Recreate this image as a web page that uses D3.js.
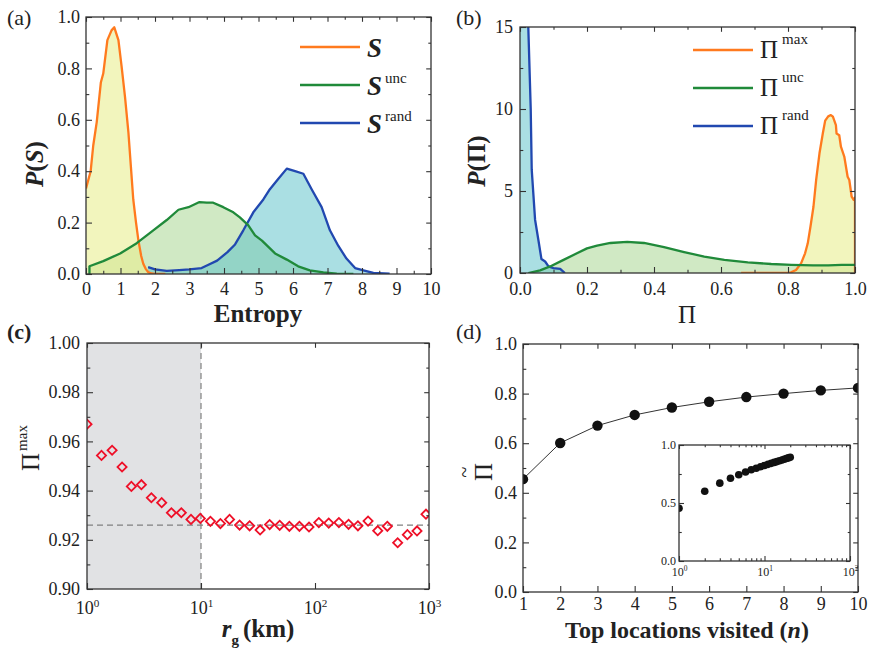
<!DOCTYPE html>
<html>
<head>
<meta charset="utf-8">
<script src="https://cdn.jsdelivr.net/npm/d3@7"></script>
</head>
<body style="margin:0;background:#fff">
<div id="chart"></div>
<script>
// (a) entropy distributions  [S, P(S)]
var sObs = [[0,0.333],[0.135,0.40],[0.21,0.5],[0.31,0.59],[0.43,0.745],[0.5,0.78],[0.62,0.91],[0.74,0.948],[0.82,0.96],[0.94,0.91],
            [1.03,0.81],[1.13,0.69],[1.23,0.55],[1.3,0.42],[1.37,0.29],[1.45,0.2],[1.52,0.13],[1.6,0.07],[1.66,0.04],[1.73,0.02],
            [1.8,0.008],[1.9,0.002],[2.0,0],[2.3,0]];
var sUnc = [[0.1,0],[0.1,0.03],[0.5,0.05],[0.99,0.08],[1.47,0.12],[1.95,0.17],[2.34,0.21],[2.68,0.25],[2.97,0.26],[3.29,0.28],[3.5,0.278],
            [3.67,0.278],[3.98,0.26],[4.27,0.24],[4.46,0.22],[4.7,0.19],[4.9,0.15],[5.1,0.13],[5.48,0.08],[5.82,0.056],[6.15,0.03],
            [6.49,0.014],[6.88,0.006],[7.27,0.001],[7.75,0]];
var sRand = [[1.8,0.027],[2.0,0.018],[2.34,0.012],[2.7,0.015],[3.0,0.018],[3.35,0.023],[3.55,0.036],[3.8,0.052],[4.1,0.085],[4.32,0.115],
             [4.56,0.17],[4.85,0.24],[5.14,0.29],[5.33,0.33],[5.57,0.37],[5.82,0.41],[6.06,0.40],[6.3,0.39],[6.54,0.33],[6.83,0.26],
             [7.07,0.17],[7.31,0.11],[7.55,0.06],[7.8,0.023],[8.04,0.014],[8.33,0.004],[8.8,0.001]];

// (b) predictability distributions  [Pi, P(Pi)]
var piMax = [[0.66,0],[0.8,0.02],[0.809,0.04],[0.824,0.18],[0.839,0.59],[0.851,1.2],[0.859,1.81],[0.867,2.82],[0.876,4.04],[0.884,5.67],
             [0.894,7.3],[0.904,8.52],[0.911,9.29],[0.92,9.55],[0.928,9.63],[0.934,9.53],[0.943,9.02],[0.945,8.5],[0.953,8.4],[0.958,7.7],
             [0.968,7.1],[0.978,5.87],[0.983,5.67],[0.99,4.65],[0.996,4.46],[1.0,4.6],[1.0,0]];
var piUnc = [[0.025,0],[0.06,0.16],[0.09,0.4],[0.13,0.8],[0.17,1.2],[0.2,1.5],[0.23,1.67],[0.27,1.83],[0.32,1.9],[0.37,1.83],
             [0.43,1.58],[0.49,1.28],[0.55,1.0],[0.61,0.8],[0.68,0.65],[0.75,0.55],[0.81,0.5],[0.875,0.47],[0.92,0.46],[0.96,0.49],[1.0,0.49]];
var piRand = [[0,30],[0.025,14.85],[0.032,10],[0.035,6.3],[0.045,3.25],[0.055,2.0],[0.064,0.85],[0.075,0.7],[0.085,0.4],[0.1,0.3],
              [0.12,0.25],[0.134,0]];

// (c) Pi max vs radius of gyration
var rg = [1.0,1.34,1.66,2.03,2.45,3.0,3.67,4.52,5.5,6.72,8.17,9.86,12.1,14.8,17.8,21.8,26.7,33,40,49,59.6,73,88.6,108,132,162,197,238,292,355,431,531,646,785,941];
var piRg = [0.967,0.9543,0.9564,0.9496,0.9417,0.9424,0.9371,0.9351,0.931,0.931,0.9283,0.9287,0.9275,0.9266,0.9283,0.926,0.9257,0.924,
            0.9262,0.9259,0.9255,0.9255,0.9252,0.927,0.9268,0.927,0.9263,0.9257,0.9276,0.9237,0.9255,0.9188,0.9221,0.9236,0.9304];
var piRgMean = 0.926;

// (d) top n locations
var nTop = [1,2,3,4,5,6,7,8,9,10];
var piTop = [0.455,0.601,0.671,0.714,0.744,0.767,0.786,0.8,0.813,0.823];
var nInset = [1,2,3,4,5,6,7,8,9,10,11,12,13,14,15,16,17,18,19,20];
var piInset = [0.455,0.601,0.671,0.714,0.744,0.767,0.786,0.8,0.813,0.823,0.833,0.842,0.85,0.857,0.864,0.871,0.877,0.883,0.889,0.895];

var cOrange = "#ff7a1e", cGreen = "#208a3a", cBlue = "#2148b0";

var svg = d3.select("#chart").append("svg").attr("width", 870).attr("height", 655);

function panel(id, l, t, r, b) {
  var g = svg.append("g").attr("transform", "translate(" + l + "," + t + ")");
  svg.append("clipPath").attr("id", id).append("rect").attr("width", r - l).attr("height", b - t);
  return { g: g, w: r - l, h: b - t, clip: "url(#" + id + ")" };
}

function axes(p, x, y, o) {
  var g = p.g, w = p.w, h = p.h, tl = o.tl || 6;
  function ax(a, tr, vals, size, fmt, pad) {
    var s = g.append("g").attr("transform", tr)
      .call(a.tickValues(vals).tickSize(size).tickPadding(pad || 6).tickFormat(fmt));
    s.attr("font-size", o.fs || 18).attr("font-family", null).attr("color", "#333");
    s.selectAll(".tick line").attr("stroke-width", 1.1);
    s.select(".domain").remove();
    return s;
  }
  var bx = ax(d3.axisBottom(x), "translate(0," + h + ")", o.xt, -tl, o.xf, o.xpad);
  if (o.xm) ax(d3.axisBottom(x), "translate(0," + h + ")", o.xm, -tl * 0.55, "");
  ax(d3.axisTop(x), "translate(0,0)", o.xt, -tl * 0.8, "");
  if (o.xm) ax(d3.axisTop(x), "translate(0,0)", o.xm, -tl * 0.45, "");
  ax(d3.axisLeft(y), "translate(0,0)", o.yt, -tl, o.yf, o.ypad);
  if (o.ym) ax(d3.axisLeft(y), "translate(0,0)", o.ym, -tl * 0.55, "");
  ax(d3.axisRight(y), "translate(" + w + ",0)", o.yt, -tl * 0.8, "");
  if (o.ym) ax(d3.axisRight(y), "translate(" + w + ",0)", o.ym, -tl * 0.45, "");
  g.append("rect").attr("width", w).attr("height", h)
    .attr("fill", "none").attr("stroke", "#333").attr("stroke-width", 1.3);
  return bx;
}

function powLabels(s) {
  s.selectAll(".tick text").each(function(d) {
    var t = d3.select(this).text("10");
    t.append("tspan").attr("dy", "-0.6em").attr("font-size", "0.62em").text(Math.round(Math.log10(d)));
  });
}

function range(a, b, st) { return d3.range(a, b + st / 2, st); }

function curves(p, x, y, series) {
  var area = d3.area().x(function(d) { return x(d[0]); }).y0(y(0)).y1(function(d) { return y(d[1]); });
  var line = d3.line().x(function(d) { return x(d[0]); }).y(function(d) { return y(d[1]); });
  var c = p.g.append("g").attr("clip-path", p.clip);
  series.forEach(function(s) {
    c.append("path").datum(s.data).attr("d", area).attr("fill", s.fill).attr("fill-opacity", s.op);
  });
  series.slice().reverse().forEach(function(s) {
    c.append("path").datum(s.data).attr("d", line).attr("fill", "none")
      .attr("stroke", s.color).attr("stroke-width", 2.3).attr("stroke-linejoin", "round");
  });
}

function legend(items, x1, x2, y0, dy, sym, sz, bold, supDy) {
  items.forEach(function(it, i) {
    var yy = y0 + i * dy;
    svg.append("line").attr("x1", x1).attr("x2", x2).attr("y1", yy).attr("y2", yy)
      .attr("stroke", it.color).attr("stroke-width", 2.5);
    var t = svg.append("text").attr("x", x2 + 7).attr("y", yy + (bold ? 10 : 8)).attr("font-size", sz);
    var s = t.append("tspan").text(sym);
    if (bold) s.attr("font-weight", "bold").attr("font-style", "italic");
    if (it.sup) t.append("tspan").attr("dx", bold ? 3 : 4).attr("dy", supDy).attr("font-size", 15).text(it.sup);
  });
}

// ---------- (a)
var pa = panel("ca", 86, 17, 431, 274);
var xa = d3.scaleLinear().domain([0, 10]).range([0, pa.w]);
var ya = d3.scaleLinear().domain([0, 1]).range([pa.h, 0]);
curves(pa, xa, ya, [
  { data: sUnc, fill: "rgb(161,211,137)", op: 0.5, color: cGreen },
  { data: sRand, fill: "rgb(85,191,199)", op: 0.5, color: cBlue },
  { data: sObs, fill: "rgb(233,238,145)", op: 0.6, color: cOrange }
]);
axes(pa, xa, ya, { xt: range(0, 10, 1), xm: range(0.5, 9.5, 1), xf: d3.format("d"), xpad: 8,
  yt: range(0, 1, 0.2), ym: range(0.1, 0.9, 0.2), yf: d3.format(".1f") });
legend([{ color: cOrange }, { color: cGreen, sup: "unc" }, { color: cBlue, sup: "rand" }],
  300, 360, 47, 38, "S", 27, true, -12);
svg.append("text").attr("x", 258).attr("y", 322).attr("text-anchor", "middle")
  .attr("font-size", 25).attr("font-weight", "bold").text("Entropy");
var yla = svg.append("text").attr("transform", "translate(34,164) rotate(-90)").attr("text-anchor", "middle")
  .attr("dy", "0.35em").attr("font-size", 25).attr("font-weight", "bold");
yla.append("tspan").attr("font-style", "italic").text("P");
yla.append("tspan").text("(");
yla.append("tspan").attr("font-style", "italic").text("S");
yla.append("tspan").text(")");

// ---------- (b)
var pb = panel("cb", 520, 27, 855, 273);
var xb = d3.scaleLinear().domain([0, 1]).range([0, pb.w]);
var yb = d3.scaleLinear().domain([0, 15]).range([pb.h, 0]);
curves(pb, xb, yb, [
  { data: piUnc, fill: "rgb(161,211,137)", op: 0.5, color: cGreen },
  { data: piRand, fill: "rgb(85,191,199)", op: 0.5, color: cBlue },
  { data: piMax, fill: "rgb(233,238,145)", op: 0.6, color: cOrange }
]);
axes(pb, xb, yb, { xt: range(0, 1, 0.2), xm: range(0.1, 0.9, 0.2), xf: d3.format(".1f"), xpad: 9,
  yt: [0, 5, 10, 15], ym: [2.5, 7.5, 12.5], yf: d3.format("d"), ypad: 7 });
legend([{ color: cOrange, sup: "max" }, { color: cGreen, sup: "unc" }, { color: cBlue, sup: "rand" }],
  693, 753, 50, 38, "\u03A0", 25, false, -14);
svg.append("text").attr("x", 687).attr("y", 323).attr("text-anchor", "middle")
  .attr("font-size", 25).text("\u03A0");
var ylb = svg.append("text").attr("transform", "translate(476,161) rotate(-90)").attr("text-anchor", "middle")
  .attr("dy", "0.35em").attr("font-size", 25).attr("font-weight", "bold");
ylb.append("tspan").attr("font-style", "italic").text("P");
ylb.append("tspan").text("(\u03A0)");

// ---------- (c)
var pc = panel("cc", 87, 343, 429, 589);
var xc = d3.scaleLog().domain([1, 1000]).range([0, pc.w]);
var yc = d3.scaleLinear().domain([0.9, 1.0]).range([pc.h, 0]);
pc.g.append("rect").attr("x", xc(1)).attr("width", xc(10) - xc(1)).attr("height", pc.h).attr("fill", "#e1e2e4");
pc.g.append("line").attr("x1", xc(10)).attr("x2", xc(10)).attr("y1", 0).attr("y2", pc.h)
  .attr("stroke", "#808080").attr("stroke-width", 1.2).attr("stroke-dasharray", "6,4");
pc.g.append("line").attr("x1", 0).attr("x2", pc.w).attr("y1", yc(piRgMean)).attr("y2", yc(piRgMean))
  .attr("stroke", "#808080").attr("stroke-width", 1.2).attr("stroke-dasharray", "6,4");
pc.g.append("g").attr("clip-path", pc.clip).selectAll("path.dm").data(rg).enter().append("path")
  .attr("class", "dm")
  .attr("d", d3.symbol().type(d3.symbolSquare).size(42))
  .attr("transform", function(d, i) { return "translate(" + xc(d) + "," + yc(piRg[i]) + ") rotate(45)"; })
  .attr("fill", "none").attr("stroke", "#ee1028").attr("stroke-width", 1.8);
var bxc = axes(pc, xc, yc, { xt: [1, 10, 100, 1000], xf: "", xpad: 12,
  yt: range(0.9, 1.0, 0.02), ym: range(0.91, 0.99, 0.02), yf: d3.format(".2f"), ypad: 7 });
powLabels(bxc);
var xlc = svg.append("text").attr("x", 258).attr("y", 637).attr("text-anchor", "middle")
  .attr("font-size", 25).attr("font-weight", "bold");
xlc.append("tspan").attr("font-style", "italic").text("r");
xlc.append("tspan").attr("dy", 8).attr("font-size", 15).text("g");
xlc.append("tspan").attr("dy", -8).attr("dx", 4).text("(km)");
var ylc = svg.append("text").attr("transform", "translate(30,448) rotate(-90)").attr("text-anchor", "middle")
  .attr("dy", "0.35em").attr("font-size", 25);
ylc.append("tspan").text("\u03A0");
ylc.append("tspan").attr("dx", 2).attr("dy", -12).attr("font-size", 15).text("max");

// ---------- (d)
var pd = panel("cd", 523, 344, 858, 592);
var xd = d3.scaleLinear().domain([1, 10]).range([0, pd.w]);
var yd = d3.scaleLinear().domain([0, 1]).range([pd.h, 0]);
var gd = pd.g.append("g").attr("clip-path", pd.clip);
gd.append("path").datum(nTop).attr("fill", "none").attr("stroke", "#333").attr("stroke-width", 1)
  .attr("d", d3.line().x(function(d) { return xd(d); }).y(function(d, i) { return yd(piTop[i]); }));
gd.selectAll("circle").data(nTop).enter().append("circle")
  .attr("cx", function(d) { return xd(d); }).attr("cy", function(d, i) { return yd(piTop[i]); })
  .attr("r", 5.2).attr("fill", "#111");
axes(pd, xd, yd, { xt: range(1, 10, 1), xf: d3.format("d"), xpad: 5,
  yt: range(0, 1, 0.2), ym: range(0.1, 0.9, 0.2), yf: d3.format(".1f") });

// inset
var pi = panel("ci", 679, 445, 850, 561);
var xi = d3.scaleLog().domain([1, 100]).range([0, pi.w]);
var yi = d3.scaleLinear().domain([0, 1]).range([pi.h, 0]);
pi.g.append("rect").attr("width", pi.w).attr("height", pi.h).attr("fill", "#fff");
pi.g.append("g").attr("clip-path", pi.clip).selectAll("circle").data(nInset).enter().append("circle")
  .attr("cx", function(d) { return xi(d); }).attr("cy", function(d, i) { return yi(piInset[i]); })
  .attr("r", 3.8).attr("fill", "#111");
var minorLog = [2,3,4,5,6,7,8,9,20,30,40,50,60,70,80,90];
var bxi = axes(pi, xi, yi, { xt: [1, 10, 100], xm: minorLog, xf: "", xpad: 6, tl: 5, fs: 12,
  yt: [0, 0.5, 1], ym: [0.25, 0.75], yf: d3.format(".1f"), ypad: 3 });
powLabels(bxi);

var xld = svg.append("text").attr("x", 687).attr("y", 638).attr("text-anchor", "middle")
  .attr("font-size", 24).attr("font-weight", "bold");
xld.append("tspan").text("Top locations visited (");
xld.append("tspan").attr("font-style", "italic").text("n");
xld.append("tspan").text(")");
var yld = svg.append("g").attr("transform", "translate(483,472) rotate(-90)");
yld.append("text").attr("text-anchor", "middle").attr("dy", "0.35em").attr("font-size", 25).text("\u03A0");
yld.append("text").attr("text-anchor", "middle").attr("y", -12).attr("font-size", 20).text("~");

// panel letters
[["(a)", 7, 25, "normal"], ["(b)", 456, 25, "normal"], ["(c)", 7, 339, "bold"], ["(d)", 456, 339, "normal"]]
  .forEach(function(l) {
    svg.append("text").attr("x", l[1]).attr("y", l[2]).attr("font-size", 22).attr("font-weight", l[3]).text(l[0]);
  });

svg.selectAll("text").style("font-family", "'Liberation Serif'").style("fill", "#222");
</script>
</body>
</html>
